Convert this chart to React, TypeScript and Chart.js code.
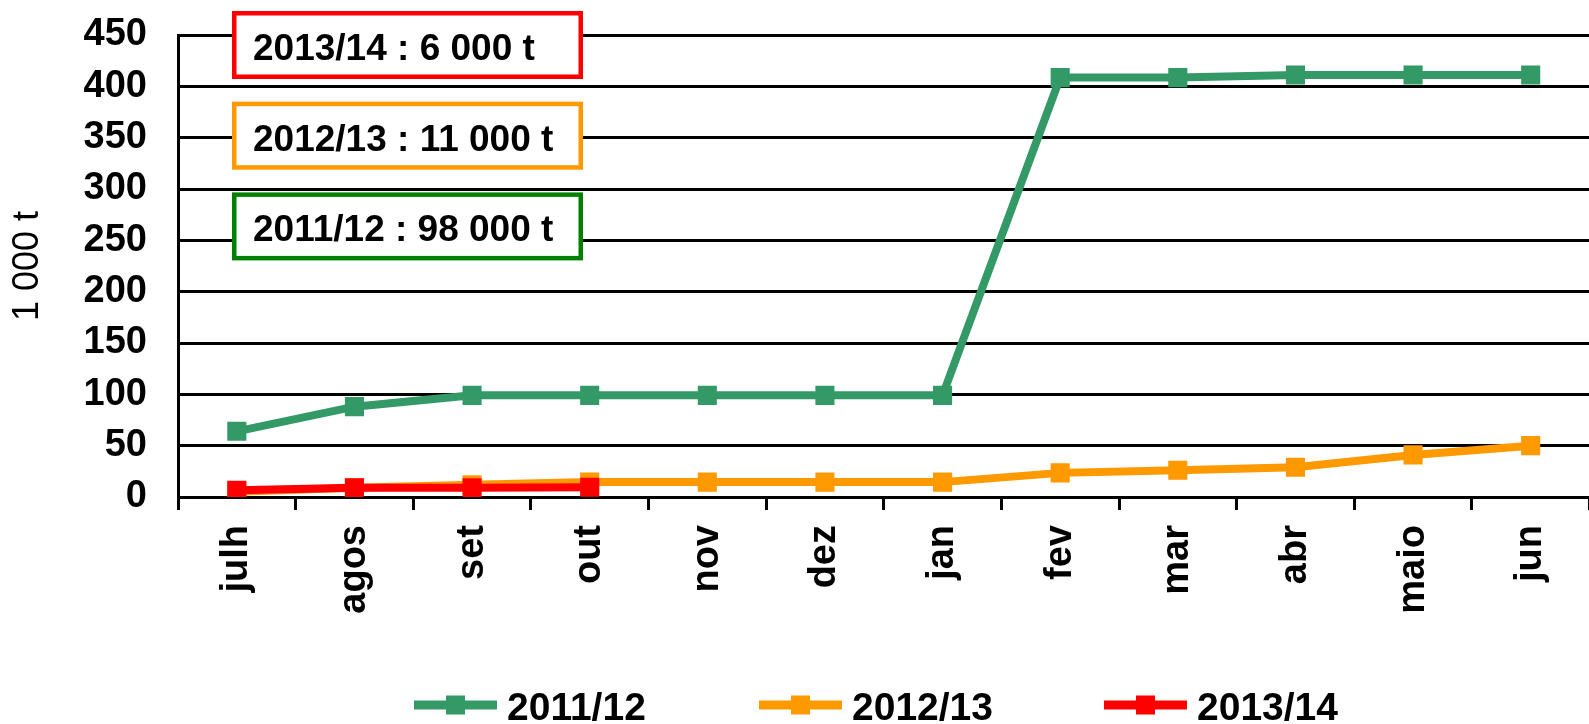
import React, { useEffect, useRef } from "react";
import { Chart, registerables } from "chart.js";

Chart.register(...registerables);

const categories = ["julh", "agos", "set", "out", "nov", "dez", "jan", "fev", "mar", "abr", "maio", "jun"];
const series2011 = [64, 88, 99, 99, 99, 99, 99, 408.5, 408.5, 411, 411, 411];
const series2012 = [5, 9, 12, 14.5, 14.5, 14.5, 14.5, 23.5, 26, 29, 41, 50];
const series2013 = [6.5, 9, 9, 9.5];
const seriesLabels = ["2011/12", "2012/13", "2013/14"];
const seriesColors = ["#339966", "#FF9900", "#FF0000"];
const annotationTexts = ["2013/14 : 6 000 t", "2012/13 : 11 000 t", "2011/12 : 98 000 t"];
const annotationColors = ["#FF0000", "#FF9900", "#008000"];
const yAxisTitle = "1 000 t";
const yMin = 0;
const yMax = 450;
const yStep = 50;

const FONT = "'Liberation Sans', Arial, Helvetica, sans-serif";
const CANVAS_W = 1603;
const VIEW_W = 1589;
const VIEW_H = 724;

const annotationPlugin = {
  id: "boxNotes",
  afterDraw(chart: any) {
    const ctx = chart.ctx;
    ctx.save();
    const left = 232;
    const width = 351;
    const height = 68;
    const lw = 4.5;
    annotationTexts.forEach((txt, i) => {
      const top = 11 + i * 90.7;
      ctx.fillStyle = "#ffffff";
      ctx.fillRect(left, top, width, height);
      ctx.lineWidth = lw;
      ctx.strokeStyle = annotationColors[i];
      ctx.strokeRect(left + lw / 2, top + lw / 2, width - lw, height - lw);
      ctx.fillStyle = "#000000";
      ctx.font = `bold 37px ${FONT}`;
      ctx.textBaseline = "alphabetic";
      ctx.textAlign = "left";
      ctx.fillText(txt, 253, top + 49);
    });
    ctx.restore();
  },
};

const legendPlugin = {
  id: "bottomLegend",
  afterDraw(chart: any) {
    const ctx = chart.ctx;
    ctx.save();
    const yc = 705;
    chart.data.datasets.forEach((ds: any) => {
      const i = seriesLabels.indexOf(ds.label);
      const x0 = 414 + i * 345;
      ctx.strokeStyle = ds.borderColor;
      ctx.lineWidth = 9;
      ctx.beginPath();
      ctx.moveTo(x0, yc);
      ctx.lineTo(x0 + 83, yc);
      ctx.stroke();
      ctx.fillStyle = ds.borderColor;
      ctx.fillRect(x0 + 41.5 - 9.5, yc - 9.5, 19, 19);
      ctx.fillStyle = "#000000";
      ctx.font = `bold 39px ${FONT}`;
      ctx.textBaseline = "alphabetic";
      ctx.textAlign = "left";
      ctx.fillText(ds.label, x0 + 93, 720);
    });
    ctx.restore();
  },
};

export default function App() {
  const canvasRef = useRef<HTMLCanvasElement | null>(null);

  useEffect(() => {
    const canvas = canvasRef.current;
    if (!canvas) return;
    Chart.defaults.font.family = FONT;
    const allSeries = [series2011, series2012, series2013];
    const chart = new Chart(canvas, {
      type: "line",
      data: {
        labels: categories,
        datasets: allSeries.map((data, i) => ({
          label: seriesLabels[i],
          data,
          borderColor: seriesColors[i],
          backgroundColor: seriesColors[i],
          borderWidth: 8,
          pointStyle: "rect",
          pointRadius: 13.5,
          pointHoverRadius: 13.5,
          pointBorderWidth: 0,
          fill: false,
          tension: 0,
          order: 2 - i,
        })),
      },
      options: {
        animation: false,
        responsive: false,
        devicePixelRatio: 1,
        layout: { padding: { top: 35, right: 0, bottom: 100, left: 0 } },
        plugins: {
          legend: { display: false },
          tooltip: { enabled: false },
          title: { display: false },
        },
        scales: {
          x: {
            offset: true,
            grid: {
              display: true,
              drawOnChartArea: false,
              drawTicks: true,
              tickLength: 13,
              offset: true,
              color: "#000000",
              lineWidth: 3,
            },
            border: { display: true, color: "#000000", width: 3 },
            ticks: {
              color: "#000000",
              font: { size: 38, weight: "bold", family: FONT },
              minRotation: 90,
              maxRotation: 90,
              padding: 15,
              autoSkip: false,
            },
            afterFit: (scale: any) => {
              scale.height = 127;
            },
          },
          y: {
            min: yMin,
            max: yMax,
            grid: {
              display: true,
              drawTicks: false,
              color: "#000000",
              lineWidth: 3,
            },
            border: { display: true, color: "#000000", width: 3 },
            ticks: {
              stepSize: yStep,
              color: "#000000",
              font: { size: 38, weight: "bold", family: FONT },
              padding: 31,
            },
            title: {
              display: true,
              text: yAxisTitle,
              color: "#000000",
              font: { size: 36, weight: "normal", family: FONT },
              padding: { top: 6, bottom: 0 },
            },
            afterFit: (scale: any) => {
              scale.width = 178;
              scale.paddingTop = 0;
              scale.paddingBottom = 0;
            },
          },
        },
      },
      plugins: [annotationPlugin, legendPlugin],
    });
    return () => chart.destroy();
  }, []);

  return (
    <div style={{ position: "fixed", left: 0, top: 0, width: VIEW_W, height: VIEW_H, overflow: "hidden", background: "#fff" }}>
      <canvas ref={canvasRef} width={CANVAS_W} height={VIEW_H} style={{ display: "block", width: CANVAS_W, height: VIEW_H }} />
    </div>
  );
}
